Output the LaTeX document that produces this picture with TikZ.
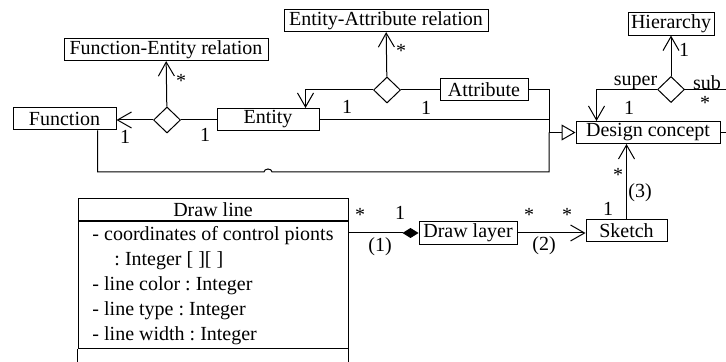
\documentclass[tikz,border=0pt]{standalone}
\usepackage{fontspec}
\setmainfont{Liberation Serif}
\usetikzlibrary{shapes.geometric,arrows.meta,calc}
\frenchspacing

\begin{document}
\begin{tikzpicture}[x=0.5pt,y=-0.5pt,line width=0.5pt,
  every node/.style={font=\fontsize{10}{12.5}\selectfont},
  cls/.style={draw,minimum height=11pt,inner sep=1pt},
  rel/.style={draw,diamond,aspect=1,minimum width=13.5pt,minimum height=13pt,inner sep=0pt},
  mult/.style={inner sep=0pt},
  assoc/.style={-{Straight Barb[length=7pt,width=8pt]}},
  isa/.style={-{Triangle[open,length=7pt,width=8pt]}},
  comp/.style={{Diamond[length=8pt,width=5pt]}-}]
\useasboundingbox (0,0) rectangle (726,362);
\clip (0,0) rectangle (726,362);

\node[cls,minimum width=102pt] (ferel) at (166,49.5) {Function-Entity relation};
\node[cls,minimum width=102pt] (earel) at (386,20.5) {Entity-Attribute relation};
\node[cls,minimum width=43pt] (hier) at (671,24) {Hierarchy};
\node[cls,minimum width=51.5pt] (func) at (64.5,119) {Function};
\node[cls,minimum width=51pt] (entity) at (268,119.5) {Entity};
\node[cls,minimum width=44pt] (attr) at (484,89.5) {Attribute};
\node[cls,minimum width=72pt] (dc) at (648,132.5) {Design concept};
\node[cls,minimum width=40.5pt] (sketch) at (626.5,231) {Sketch};
\node[cls,minimum width=49pt] (layer) at (468,233) {Draw layer};
\node[rel] (fed) at (167,120) {};
\node[rel] (ead) at (387,90) {};
\node[rel] (hd) at (671,89.5) {};

\node[cls,minimum width=135pt] (dl) at (213,210) {Draw line};
\node[draw,anchor=north,minimum width=135pt,minimum height=63pt,align=left,inner sep=2pt] (dlattr) at (dl.south)
  {- coordinates of control pionts\\\hspace*{11pt}: Integer [ ][ ]\\- line color : Integer\\- line type : Integer\\- line width : Integer};
\draw (dlattr.south west) -- ++(0,20);
\draw (dlattr.south east) -- ++(0,20);

\draw[assoc] (fed.west) -- (fed.west -| func.east);
\draw (fed.east) -- (fed.east -| entity.west);
\draw[assoc] (fed) -- (ferel);
\draw[assoc] (ead.west) -| ($(entity.north east)+(-14,0)$);
\draw (ead.east) -- (ead.east -| attr.west);
\draw[assoc] (ead) -- (earel);

\coordinate (gen) at (549,132.5);
\draw[isa] (gen) -- (dc);
\draw (attr) -| (gen);
\draw (entity) -- (entity -| gen);
\draw ($(func.south east)+(-19,0)$) |- (264,172) arc[start angle=180,end angle=360,x radius=4,y radius=3] -| (gen);
\coordinate (dcend) at (726,132.5);
\draw (dc) -- (dcend);

\draw[assoc] (hd) -- (hier);
\draw[assoc] (hd.west) -| ($(dc.north west)+(21,0)$);
\coordinate (subend) at (726,89.5);
\draw (hd) -- (subend);

\draw[assoc] (sketch.north) -- (sketch.north |- dc.south);
\draw[assoc] (layer.east) -- (layer.east -| sketch.west);
\draw[comp] (layer.west) -- (layer.west -| dlattr.east);

\node[mult] (m1) at (125,137) {1};
\node[mult] (m2) at (205,135) {1};
\node[mult] (m3) at (181,81) {*};
\node[mult] (m4) at (347,107) {1};
\node[mult] (m5) at (426,108) {1};
\node[mult] (m6) at (401,51) {*};
\node[mult] (m7) at (635.5,83) {super};
\node[mult] (m8) at (684,50) {1};
\node[mult] (m9) at (629,108) {1};
\node[mult] (m10) at (707,83) {sub};
\node[mult] (m11) at (705,103) {*};
\node[mult] (m12) at (618,175) {*};
\node[mult] (m13) at (640,193) {(3)};
\node[mult] (m14) at (608,209) {1};
\node[mult] (m15) at (529,215) {*};
\node[mult] (m16) at (567,215) {*};
\node[mult] (m17) at (544,246) {(2)};
\node[mult] (m18) at (360,215) {*};
\node[mult] (m19) at (400,213) {1};
\node[mult] (m20) at (380,247) {(1)};
\end{tikzpicture}
\end{document}
